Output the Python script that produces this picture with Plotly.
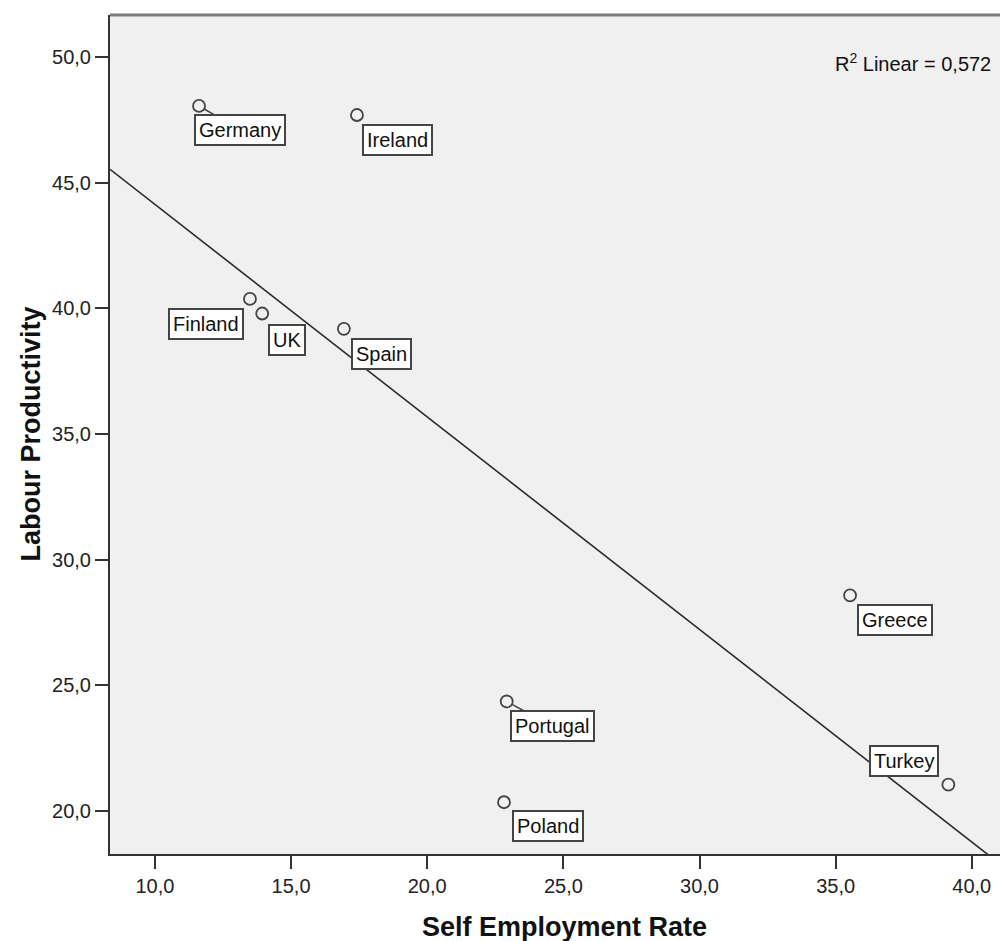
import numpy as np
import plotly.graph_objects as go

# ---- data ----
countries = ["Germany", "Ireland", "Finland", "UK", "Spain", "Portugal", "Poland", "Greece", "Turkey"]
self_employment = [11.62, 17.42, 13.49, 13.94, 16.94, 22.92, 22.82, 35.53, 39.14]
labour_productivity = [48.06, 47.70, 40.38, 39.80, 39.19, 24.36, 20.35, 28.58, 21.05]
x_ticks = [10, 15, 20, 25, 30, 35, 40]
y_ticks = [20, 25, 30, 35, 40, 45, 50]
r2_text = "R<sup>2</sup> Linear = 0,572"

# ---- layout helpers ----
X_RANGE = [8.35, 41.33]
Y_RANGE = [18.29, 51.68]
FONT = "Arial, Liberation Sans, sans-serif"
# label offsets in pixels (dx, dy) and whether a leader line is shown
label_offsets = {
    "Germany": (41, 24, True),
    "Ireland": (41, 25, False),
    "Finland": (-44, 25, False),
    "UK": (25, 26, False),
    "Spain": (38, 25, False),
    "Portugal": (46, 25, True),
    "Poland": (44, 24, False),
    "Greece": (45, 25, False),
    "Turkey": (-44, -24, False),
}

slope, intercept = np.polyfit(np.array(self_employment), np.array(labour_productivity), 1)
fit_x = np.array(X_RANGE)
fit_y = intercept + slope * fit_x

fig = go.Figure()
fig.add_trace(go.Scatter(
    x=fit_x, y=fit_y, mode="lines",
    line=dict(color="#2a2a2a", width=1.6),
    showlegend=False, hoverinfo="skip",
))
fig.add_trace(go.Scatter(
    x=self_employment, y=labour_productivity, mode="markers",
    marker=dict(symbol="circle-open", size=12, color="#444444", line=dict(width=1.8, color="#444444")),
    text=countries, showlegend=False,
))

annotations = []
for name, xv, yv in zip(countries, self_employment, labour_productivity):
    dx, dy, leader = label_offsets[name]
    annotations.append(dict(
        x=xv, y=yv, xref="x", yref="y", text=name,
        showarrow=True, ax=dx, ay=dy, arrowhead=0, arrowwidth=1.5,
        arrowcolor="#444444" if leader else "rgba(0,0,0,0)", standoff=6,
        font=dict(family=FONT, size=20, color="#111111"),
        bgcolor="white", bordercolor="#444444", borderwidth=2, borderpad=3,
    ))

# plot area in figure pixels: 102..1000 wide (898), 7..846 high (839)
annotations.append(dict(
    x=(985 - 102) / 898, y=(846 - 55) / 839, xref="paper", yref="paper", text=r2_text,
    showarrow=False, xanchor="right", yanchor="middle",
    font=dict(family=FONT, size=20, color="#111111"),
))
annotations.append(dict(
    x=(556 - 102) / 898, y=(846 - 919) / 839, xref="paper", yref="paper",
    text="<b>Self Employment Rate</b>", showarrow=False, xanchor="center", yanchor="middle",
    font=dict(family=FONT, size=27, color="#111111"),
))
annotations.append(dict(
    x=(22 - 102) / 898, y=0.5, xref="paper", yref="paper",
    text="<b>Labour Productivity</b>", showarrow=False, xanchor="center", yanchor="middle",
    textangle=-90, font=dict(family=FONT, size=27, color="#111111"),
))

fig.update_layout(
    width=1000, height=933,
    margin=dict(l=102, r=0, t=7, b=87),
    paper_bgcolor="white", plot_bgcolor="#f0f0f0",
    separators=", ",
    font=dict(family=FONT, size=20, color="#222222"),
    annotations=annotations,
    shapes=[dict(type="line", xref="paper", yref="paper", x0=0, x1=1, y0=1, y1=1,
                 line=dict(color="#7a7a7a", width=3))],
)
fig.update_xaxes(
    range=X_RANGE, tickvals=x_ticks, tickformat=".1f", showgrid=False, zeroline=False,
    showline=True, linecolor="#333333", linewidth=2, ticks="outside", ticklen=13,
    tickwidth=2, tickcolor="#333333", tickfont=dict(family=FONT, size=20, color="#222222"),
)
fig.update_yaxes(
    range=Y_RANGE, tickvals=y_ticks, tickformat=".1f", showgrid=False, zeroline=False,
    showline=True, linecolor="#333333", linewidth=2, ticks="outside", ticklen=13,
    tickwidth=2, tickcolor="#333333", tickfont=dict(family=FONT, size=20, color="#222222"),
)

fig.write_html("out.html")
